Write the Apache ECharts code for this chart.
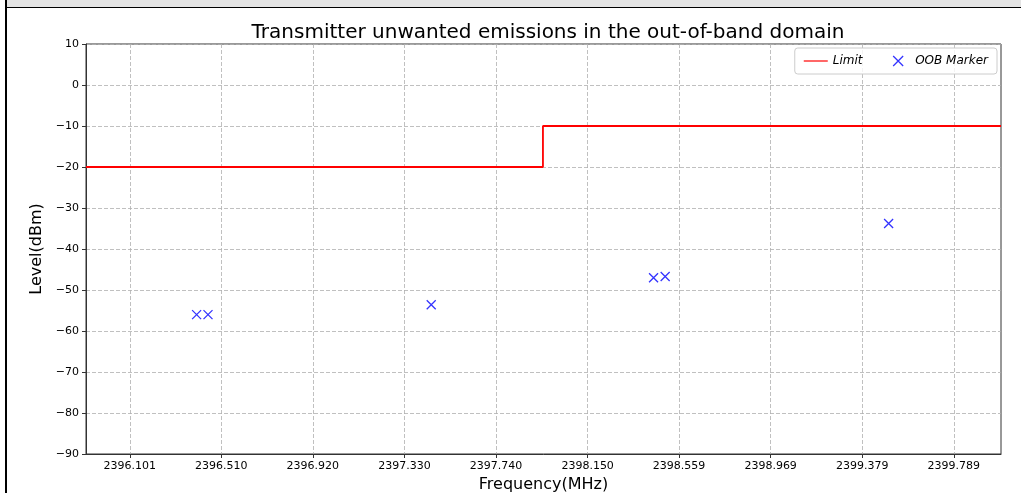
<!DOCTYPE html>
<html>
<head>
<meta charset="utf-8">
<script src="https://cdn.jsdelivr.net/npm/echarts@6/dist/echarts.min.js"></script>
<style>
html,body{margin:0;padding:0;background:#fff;}
#chart{width:1021px;height:493px;}
</style>
</head>
<body>
<div id="chart"></div>
<script>
// Data
const titleText = 'Transmitter unwanted emissions in the out-of-band domain';
const xTickLabels = ['2396.101','2396.510','2396.920','2397.330','2397.740','2398.150','2398.559','2398.969','2399.379','2399.789'];
const yTicks = [10, 0, -10, -20, -30, -40, -50, -60, -70, -80, -90];
const limitFreq = [2395.905, 2397.95, 2400.0];
const limitLevel = [-20, -10, -10];
const markerFreq = [2396.40, 2396.451, 2397.45, 2398.445, 2398.497, 2399.497];
const markerLevel = [-56.0, -56.0, -53.6, -47.0, -46.7, -33.8];
const xMin = 2395.905, xMax = 2400.0;

const xTickValues = xTickLabels.map(Number);
const fmtMinus = v => (v < 0 ? '\u2212' + Math.abs(v) : String(v));

const chart = echarts.init(document.getElementById('chart'), null, {renderer: 'canvas'});
const font = 'DejaVu Sans';

const option = {
  animation: false,
  backgroundColor: '#fff',
  textStyle: {fontFamily: font},
  title: {
    text: titleText,
    left: 543, top: 18, textAlign: 'center',
    textStyle: {fontFamily: font, fontSize: 20, fontWeight: 'normal', color: '#000'}
  },
  legend: {
    right: 24, top: 48,
    orient: 'horizontal',
    itemGap: 30,
    itemWidth: 24, itemHeight: 10,
    padding: [7, 9, 7, 9],
    borderColor: '#ccc', borderWidth: 1, borderRadius: 3,
    backgroundColor: 'rgba(255,255,255,0.8)',
    textStyle: {fontFamily: font, fontSize: 12, fontStyle: 'italic', color: '#000'},
    data: [
      {name: 'Limit', icon: 'path://M0,4.4L24,4.4L24,5.6L0,5.6Z', itemStyle: {color: '#ff0000'}},
      {name: 'OOB Marker', icon: 'path://M8,1L16,9M16,1L8,9', itemStyle: {color: 'transparent', borderColor: '#0000ff', borderWidth: 1.3}}
    ]
  },
  grid: {show: true, left: 86, right: 20, top: 44, bottom: 39, outerBoundsMode: 'none', containLabel: false,
    borderColor: '#333', borderWidth: 1, backgroundColor: 'transparent'},
  xAxis: {
    type: 'value', min: xMin, max: xMax,
    name: 'Frequency(MHz)', nameLocation: 'middle', nameGap: 22,
    nameTextStyle: {fontFamily: font, fontSize: 16, color: '#000'},
    axisLine: {show: true, onZero: false, lineStyle: {color: '#333', width: 1}},
    axisTick: {show: true, length: 4, lineStyle: {color: '#333'}, customValues: xTickValues},
    axisLabel: {customValues: xTickValues, fontFamily: font, fontSize: 11, color: '#000', margin: 7,
      formatter: v => { const i = xTickValues.findIndex(t => Math.abs(t - v) < 1e-6); return i >= 0 ? xTickLabels[i] : ''; }},
    splitLine: {show: true, lineStyle: {color: '#b0b0b0', type: [4, 2], width: 0.8}}
  },
  yAxis: {
    type: 'value', min: -90, max: 10, interval: 10,
    name: 'Level(dBm)', nameLocation: 'middle', nameGap: 35,
    nameTextStyle: {fontFamily: font, fontSize: 16, color: '#000'},
    axisLine: {show: true, onZero: false, lineStyle: {color: '#333', width: 1}},
    axisTick: {show: true, length: 4, inside: false, lineStyle: {color: '#333'}},
    axisLabel: {fontFamily: font, fontSize: 11, color: '#000', margin: 7, formatter: fmtMinus},
    splitLine: {show: true, lineStyle: {color: '#b0b0b0', type: [4, 2], width: 0.8}}
  },
  series: [
    {
      name: 'Limit', type: 'line', step: 'end',
      data: limitFreq.map((f, i) => [f, limitLevel[i]]),
      showSymbol: false, symbol: 'none',
      lineStyle: {color: '#ff0000', width: 1.8},
      itemStyle: {color: '#ff0000'},
      z: 3
    },
    {
      name: 'OOB Marker', type: 'scatter',
      data: markerFreq.map((f, i) => [f, markerLevel[i]]),
      symbol: 'path://M0,0L10,10M10,0L0,10', symbolSize: 9,
      itemStyle: {color: 'transparent', borderColor: '#0000ff', borderWidth: 1.3},
      z: 4
    }
  ],
  graphic: [
    {type: 'rect', shape: {x: 7, y: 0, width: 1014, height: 7}, style: {fill: '#e4e4e4'}, silent: true},
    {type: 'line', shape: {x1: 7, y1: 7.5, x2: 1021, y2: 7.5}, style: {stroke: '#000', lineWidth: 1}, silent: true},
    {type: 'line', shape: {x1: 6, y1: 0, x2: 6, y2: 493}, style: {stroke: '#000', lineWidth: 2}, silent: true}
  ]
};
chart.setOption(option);
</script>
</body>
</html>
